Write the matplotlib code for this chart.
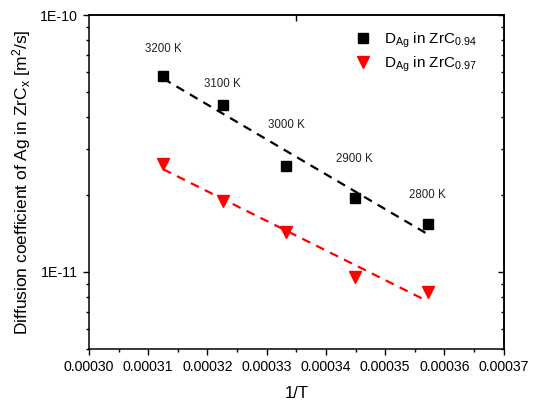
import numpy as np
import matplotlib
matplotlib.use("Agg")
import matplotlib.pyplot as plt
from matplotlib.ticker import FixedLocator, FuncFormatter, LogLocator, NullFormatter, MultipleLocator

plt.rcParams['font.family'] = ['Liberation Sans', 'DejaVu Sans']
plt.rcParams['mathtext.fontset'] = 'custom'
plt.rcParams['mathtext.rm'] = 'Liberation Sans'
plt.rcParams['mathtext.it'] = 'Liberation Sans'
plt.rcParams['mathtext.default'] = 'regular'

# ---- data ----
temperatures = [3200, 3100, 3000, 2900, 2800]
inv_T = [1.0 / t for t in temperatures]
D_zrc094 = [5.81e-11, 4.48e-11, 2.58e-11, 1.94e-11, 1.535e-11]
D_zrc097 = [2.63e-11, 1.89e-11, 1.435e-11, 9.6e-12, 8.36e-12]
temp_labels = ["3200 K", "3100 K", "3000 K", "2900 K", "2800 K"]
temp_label_y = [7.36e-11, 5.38e-11, 3.73e-11, 2.74e-11, 1.99e-11]
x_ticks = [0.00030, 0.00031, 0.00032, 0.00033, 0.00034, 0.00035, 0.00036, 0.00037]
y_major = [1e-11, 1e-10]

fig = plt.figure(figsize=(5.36, 4.03), dpi=100)
ax = fig.add_axes([89/536, 1-349.3/403, (503.7-89)/536, (349.3-15)/403])

# fitted lines (Arrhenius fit in log space)
xs = np.array(inv_T)
for D, col in [(D_zrc094, 'black'), (D_zrc097, 'red')]:
    p = np.polyfit(xs, np.log10(D), 1)
    xl = np.array([xs.min(), xs.max()])
    ax.plot(xl, 10 ** np.polyval(p, xl), color=col, lw=1.6, dashes=(4, 3), zorder=2)

ax.plot(inv_T, D_zrc094, 's', color='black', ms=7.5, ls='none', zorder=3,
        label=r'D$_{Ag}$ in ZrC$_{0.94}$')
ax.plot(inv_T, D_zrc097, 'v', color='red', ms=8.5, ls='none', zorder=3,
        label=r'D$_{Ag}$ in ZrC$_{0.97}$')

for x, y, t in zip(inv_T, temp_label_y, temp_labels):
    ax.text(x, y, t, ha='center', va='center', fontsize=8.3, color='#222222')

ax.set_yscale('log')
ax.set_xlim(0.00030, 0.00037)
ax.set_ylim(5e-12, 1e-10)

ax.xaxis.set_major_locator(FixedLocator(x_ticks))
ax.xaxis.set_minor_locator(MultipleLocator(0.000005))
ax.xaxis.set_major_formatter(FuncFormatter(lambda v, p: f"{v:.5f}"))
ax.yaxis.set_major_locator(FixedLocator(y_major))
ax.yaxis.set_minor_locator(LogLocator(base=10, subs=np.arange(2, 10)))
ax.yaxis.set_minor_formatter(NullFormatter())
ax.yaxis.set_major_formatter(FuncFormatter(lambda v, p: f"1E{int(round(np.log10(v)))}"))

ax.tick_params(axis='both', which='major', direction='out', length=4.5, width=1, labelsize=10.2)
ax.tick_params(axis='both', which='minor', direction='out', length=2.5, width=1)

# right axis: inward ticks, same positions
sec_r = ax.secondary_yaxis('right')
sec_r.yaxis.set_major_locator(FixedLocator(y_major))
sec_r.yaxis.set_minor_locator(LogLocator(base=10, subs=np.arange(2, 10)))
sec_r.yaxis.set_minor_formatter(NullFormatter())
sec_r.tick_params(which='major', direction='in', length=4.5, width=1, labelright=False)
sec_r.tick_params(which='minor', direction='in', length=2.5, width=1, labelright=False)

# top axis: single inward tick
sec = ax.secondary_xaxis('top')
sec.set_xticks([0.000335])
sec.tick_params(direction='in', length=4, width=1, labeltop=False)
sec.xaxis.set_minor_locator(FixedLocator([]))

for s in ax.spines.values():
    s.set_linewidth(1.1)
sec.spines['top'].set_linewidth(1.1)
sec_r.spines['right'].set_linewidth(1.1)

ax.set_xlabel('1/T', fontsize=12, labelpad=8)
ax.set_ylabel(r'Diffusion coefficient of Ag in ZrC$_{x}$ [m$^2$/s]', fontsize=12.5, labelpad=5)

ax.legend(loc='upper left', bbox_to_anchor=(0.612, 0.99), frameon=False, fontsize=11,
          handlelength=1.0, handletextpad=0.9, labelspacing=0.3, borderpad=0.3)

fig.savefig('out.png', dpi=100)
